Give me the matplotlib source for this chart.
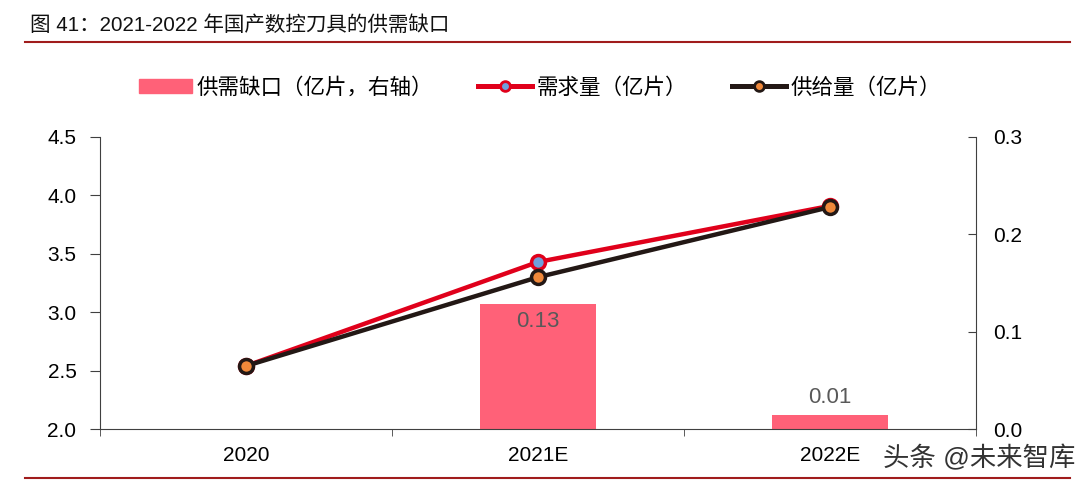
import numpy as np
import matplotlib.pyplot as plt
from matplotlib.lines import Line2D
from matplotlib.patches import Patch

plt.rcParams['font.family'] = ['Liberation Sans', 'Noto Sans CJK SC', 'DejaVu Sans']

# data
years = ['2020', '2021E', '2022E']
demand = [2.54, 3.43, 3.91]        # 需求量（亿片）
supply = [2.54, 3.30, 3.90]        # 供给量（亿片）
gap_years = ['2021E', '2022E']
gap = [0.128, 0.014]               # 供需缺口（亿片，右轴）
gap_labels = ['0.13', '0.01']

bar_col = '#FF6178'
demand_col = '#E0001B'
supply_col = '#231815'
dark_red = '#A01C1C'

fig = plt.figure(figsize=(10.88, 4.86), dpi=100)
ax = fig.add_axes([100/1088, 1-429/486, 876/1088, 292/486])
ax2 = ax.twinx()

x = np.arange(len(years))
gx = np.array([years.index(y) for y in gap_years])

# bars on right axis
ax2.bar(gx, gap, width=0.4, color=bar_col, zorder=1)
ax2.text(gx[0], gap[0] - 0.007, gap_labels[0], ha='center', va='top', fontsize=16, color='#595959')
ax2.text(gx[1], gap[1] + 0.008, gap_labels[1], ha='center', va='bottom', fontsize=16, color='#595959')
ax2.set_ylim(0, 0.3)
ax2.set_yticks([0.0, 0.1, 0.2, 0.3])
ax2.set_yticklabels(['0.0', '0.1', '0.2', '0.3'])

# lines on left axis, drawn over bars
ax.set_zorder(ax2.get_zorder() + 1)
ax.patch.set_visible(False)
ax.plot(x, demand, color=demand_col, lw=3.2, marker='o', ms=10, mfc='#6FA0DC',
        mec=demand_col, mew=2.5, zorder=3)
ax.plot(x, supply, color=supply_col, lw=3.2, marker='o', ms=10, mfc='#F0883A',
        mec=supply_col, mew=2.5, zorder=4)
ax.set_ylim(2.0, 4.5)
ax.set_yticks(np.arange(2.0, 4.51, 0.5))
ax.set_yticklabels([f'{v:.1f}' for v in np.arange(2.0, 4.51, 0.5)])
ax.set_xlim(-0.5, 2.5)
ax.set_xticks(x)
ax.set_xticklabels(years)
ax.set_xticks([-0.5, 0.5, 1.5, 2.5], minor=True)
ax.tick_params(axis='x', which='major', length=0, pad=12, labelsize=15)
ax.tick_params(axis='x', which='minor', length=5, color='#404040', direction='out')
ax.tick_params(axis='y', length=7, color='#404040', labelsize=15, pad=10)
ax2.tick_params(axis='y', length=6, color='#404040', labelsize=15, direction='in', pad=12)

for a in (ax, ax2):
    a.spines['top'].set_visible(False)
    for s in ('left', 'right', 'bottom'):
        a.spines[s].set_color('#404040')
ax.spines['right'].set_visible(False)
ax2.spines['left'].set_visible(False)
ax2.spines['bottom'].set_visible(False)

# legend
handles = [
    Patch(color=bar_col),
    Line2D([], [], color=demand_col, lw=3.6, marker='o', ms=7, mfc='#6FA0DC', mec=demand_col, mew=2),
    Line2D([], [], color=supply_col, lw=3.6, marker='o', ms=7, mfc='#F0883A', mec=supply_col, mew=2),
]
labels = ['供需缺口（亿片，右轴）', '需求量（亿片）', '供给量（亿片）']
fig.legend(handles, labels, loc='center', bbox_to_anchor=(0.496, 1-88/486), ncol=3,
           frameon=False, fontsize=15.5, handlelength=2.5, handleheight=0.6,
           handletextpad=0.2, columnspacing=2.1)

# title and rules
fig.text(30/1088, 1-25/486, '图 41：2021-2022 年国产数控刀具的供需缺口', fontsize=14.8,
         va='center', ha='left', color='#111111')
fig.add_artist(Line2D([25/1088, 1070/1088], [1-42/486, 1-42/486], color=dark_red, lw=1.5))
fig.add_artist(Line2D([25/1088, 1070/1088], [1-478/486, 1-478/486], color=dark_red, lw=1.5))
fig.text(1075/1088, 1-458/486, '头条 @未来智库', fontsize=19, ha='right', va='center', color='#333333')

fig.savefig('out.png', dpi=100)
